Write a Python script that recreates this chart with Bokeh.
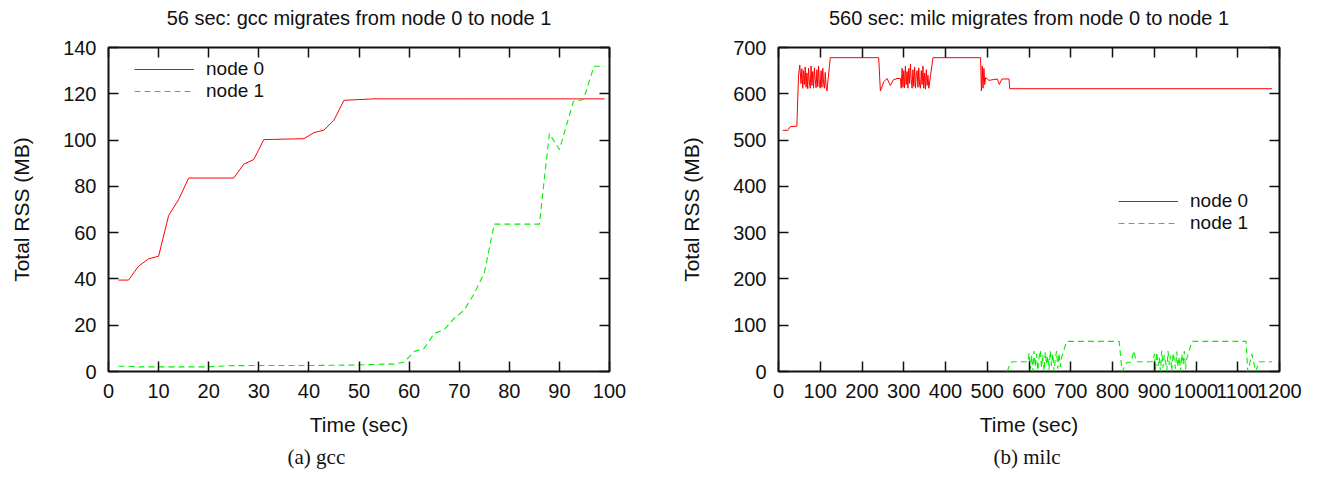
from bokeh.plotting import figure
from bokeh.models import Range1d, LinearAxis, FixedTicker, Legend, LegendItem, Title
from bokeh.layouts import row
from bokeh.embed import file_html
from bokeh.resources import INLINE

# ---------------- data ----------------
# (a) gcc
gcc_title = "56 sec: gcc migrates from node 0 to node 1"
gcc_caption = "(a)  gcc"
gcc_t0 = [2, 4, 6, 8, 10, 12, 14, 16, 18, 20, 22, 25, 27, 29, 31, 33, 35, 37, 39, 41,
          43, 45, 47, 49, 51, 53, 55, 60, 70, 80, 90, 99]
gcc_node0 = [39.5, 39.5, 45.5, 48.7, 49.8, 67.4, 74.3, 83.6, 83.6, 83.6, 83.6, 83.6, 89.6, 91.6,
             100.2, 100.3, 100.4, 100.5, 100.6, 103.2, 104.3, 108.6, 117.2, 117.4, 117.6,
             117.8, 117.8, 117.8, 117.8, 117.8, 117.8, 117.8]
gcc_t1 = [2, 4, 6, 10, 20, 24, 30, 40, 50, 55, 57, 59, 61, 63, 65, 67, 69, 71, 73, 75,
          77, 80, 83, 86, 88, 90, 92.8, 94.8, 96.9, 99]
gcc_node1 = [2.3, 2.3, 2.0, 2.0, 2.0, 2.5, 2.6, 2.6, 2.8, 3.2, 3.2, 4.0, 8.6, 10.0, 16.4,
             18.1, 23.0, 26.5, 33.7, 42.6, 63.7, 63.7, 63.7, 63.7, 102.8, 95.9, 116.7,
             117.5, 131.9, 131.9]
gcc_xticks = [0, 10, 20, 30, 40, 50, 60, 70, 80, 90, 100]
gcc_yticks = [0, 20, 40, 60, 80, 100, 120, 140]

# (b) milc
milc_title = "560 sec: milc migrates from node 0 to node 1"
milc_caption = "(b)  milc"
milc_t0 = [10, 22, 28, 44, 48, 51,
           54, 56, 58, 60, 62, 64, 66, 68, 70, 72, 74, 76, 78, 80, 82, 84, 86, 88, 90, 92,
           94, 96, 98, 100, 102, 104, 106, 108, 110, 112, 114, 116,
           124, 240, 244, 252, 260, 268, 275, 284, 292,
           294, 296, 298, 300, 302, 304, 306, 308, 310, 312, 314, 316, 318, 320, 322, 324,
           326, 328, 330, 332, 334, 336, 338, 340, 342, 344, 346, 348, 350, 352, 354, 356,
           358, 360,
           370, 484, 486, 488, 490, 492, 494, 496, 500, 504, 524, 529, 535, 552, 554, 1182]
milc_node0 = [521, 521, 529, 530, 640, 662,
              622, 654, 612, 650, 620, 658, 614, 645, 611, 655, 625, 612, 660, 618, 648, 612,
              656, 630, 613, 652, 615, 660, 620, 612, 650, 614, 655, 622, 612, 646, 616, 606,
              678, 678, 606, 626, 633, 618, 630, 633, 633,
              612, 655, 614, 650, 613, 660, 620, 648, 612, 655, 622, 664, 630, 612, 652, 616,
              658, 612, 640, 650, 614, 656, 618, 612, 650, 620, 660, 612, 645, 610, 652, 618,
              640, 612,
              678, 678, 606, 660, 612, 655, 620, 635, 632, 629, 632, 620, 632, 632, 611, 611]
milc_t1 = [548, 556, 564, 598,
           600, 603, 606, 609, 612, 615, 618, 621, 624, 627, 630, 633, 636, 639, 642, 645,
           648, 651, 654, 657, 660, 663, 666, 669, 672, 675, 678,
           690, 816, 823, 835, 845, 851, 857, 898,
           900, 903, 906, 909, 912, 915, 918, 921, 924, 927, 930, 933, 936, 939, 942, 945,
           948, 951, 954, 957, 960, 963, 966, 969, 972, 975, 978,
           990, 1120, 1124, 1134, 1138, 1143, 1151, 1182]
milc_node1 = [0, 20, 21, 21,
              40, 5, 35, 0, 44, 10, 38, 2, 30, 46, 8, 36, 0, 42, 15, 33, 4, 45, 12, 38, 0,
              28, 44, 6, 40, 10, 30,
              65, 65, 0, 20, 20, 45, 21, 21,
              38, 4, 42, 12, 30, 0, 45, 8, 36, 20, 2, 44, 14, 34, 0, 40, 25, 6, 43, 10, 32,
              0, 38, 16, 44, 5, 28,
              65, 65, 0, 38, 20, 0, 21, 21]
milc_xticks = [0, 100, 200, 300, 400, 500, 600, 700, 800, 900, 1000, 1100, 1200]
milc_yticks = [0, 100, 200, 300, 400, 500, 600, 700]

series_labels = ["node 0", "node 1"]
x_label = "Time (sec)"
y_label = "Total RSS (MB)"

SANS = "Liberation Sans"
SERIF = "Liberation Serif"
INK = "#111111"
FRAME_W = 501


def style_axis(ax, labels=True):
    ax.major_tick_in = 10
    ax.major_tick_out = 0
    ax.minor_tick_in = 0
    ax.minor_tick_out = 0
    ax.axis_line_color = None
    ax.major_tick_line_color = INK
    ax.major_tick_line_width = 1.5
    ax.major_label_text_font = SANS
    if labels:
        ax.major_label_text_font_size = "20px"
        ax.major_label_text_color = INK
        ax.major_label_standoff = 12
    else:
        ax.major_label_text_font_size = "1px"
        ax.major_label_text_color = None
        ax.major_label_standoff = 0
    ax.axis_label_text_font = SANS
    ax.axis_label_text_font_size = "21px"
    ax.axis_label_text_font_style = "normal"
    ax.axis_label_text_color = INK


def make_panel(title, caption, cap_offset, t0, n0, t1, n1, xticks, yticks, bl, br, legend_loc):
    p = figure(width=bl + FRAME_W + br, height=472, output_backend="svg",
               toolbar_location=None,
               x_range=Range1d(xticks[0], xticks[-1]), y_range=Range1d(yticks[0], yticks[-1]),
               min_border_left=bl, min_border_right=br, min_border_top=47,
               min_border_bottom=101)
    p.title.visible = False
    p.background_fill_color = "white"
    p.border_fill_color = "white"
    p.outline_line_color = INK
    p.outline_line_width = 2
    p.xgrid.visible = False
    p.ygrid.visible = False

    p.xaxis.ticker = FixedTicker(ticks=xticks)
    p.yaxis.ticker = FixedTicker(ticks=yticks)
    for ax in p.xaxis:
        style_axis(ax)
        ax.axis_label = x_label
        ax.axis_label_standoff = 12
    for ax in p.yaxis:
        style_axis(ax)
        ax.axis_label = y_label
        ax.axis_label_standoff = 27

    # top mirror axis carries the chart title as its label
    top = LinearAxis(ticker=FixedTicker(ticks=xticks))
    style_axis(top, labels=False)
    top.axis_label = title
    top.axis_label_text_font_size = "20px"
    top.axis_label_standoff = 19
    p.add_layout(top, "above")
    right = LinearAxis(ticker=FixedTicker(ticks=yticks))
    style_axis(right, labels=False)
    p.add_layout(right, "right")

    cap = Title(text=caption, align="left", offset=cap_offset, text_font=SERIF,
                text_font_size="21px", text_font_style="normal", text_color=INK, standoff=8)
    p.add_layout(cap, "below")

    r0 = p.line(t0, n0, line_color="#ff0000", line_width=1.0)
    r1 = p.line(t1, n1, line_color="#00f000", line_width=1.1, line_dash="6 4")

    legend = Legend(items=[LegendItem(label=series_labels[0], renderers=[r0]),
                           LegendItem(label=series_labels[1], renderers=[r1])],
                    location=legend_loc, orientation="vertical")
    legend.background_fill_alpha = 0
    legend.border_line_color = None
    legend.label_text_font = SANS
    legend.label_text_font_size = "19px"
    legend.label_text_color = INK
    legend.glyph_width = 60
    legend.glyph_height = 20
    legend.label_height = 20
    legend.label_standoff = 12
    legend.spacing = 0
    legend.padding = 0
    legend.margin = 0
    p.add_layout(legend)
    return p


p1 = make_panel(gcc_title, gcc_caption, 179, gcc_t0, gcc_node0, gcc_t1, gcc_node1,
                gcc_xticks, gcc_yticks, 108, 50, (26, 269))
p2 = make_panel(milc_title, milc_caption, 215, milc_t0, milc_node0, milc_t1, milc_node1,
                milc_xticks, milc_yticks, 119, 23, (340, 137))

layout = row(p1, p2, spacing=0)
open("out.html", "w").write(file_html(layout, INLINE))
